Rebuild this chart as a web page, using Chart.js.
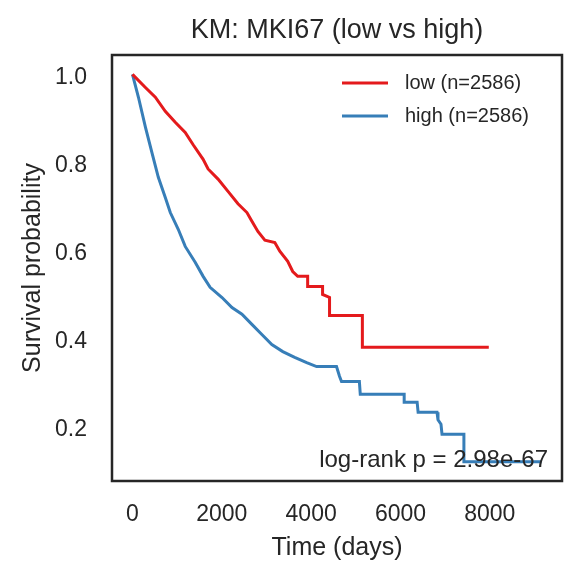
<!DOCTYPE html>
<html>
<head>
<meta charset="utf-8">
<script src="https://cdn.jsdelivr.net/npm/chart.js@4/dist/chart.umd.min.js"></script>
<style>
  html, body { margin: 0; padding: 0; background: #fff; }
  #wrap { width: 582px; height: 582px; }
</style>
</head>
<body>
<div id="wrap"><canvas id="km" width="582" height="582"></canvas></div>
<script>
const chartTitle = "KM: MKI67 (low vs high)";
const pValueText = "log-rank p = 2.98e-67";
const seriesLabels = ["low (n=2586)", "high (n=2586)"];
const xTicks = [0, 2000, 4000, 6000, 8000];
const yTicks = [0.2, 0.4, 0.6, 0.8, 1.0];

// low expression group (days, survival)
const lowTime = [0, 290, 512, 735, 958, 1181, 1359, 1582, 1693, 1916, 2139, 2362, 2563, 2674, 2808, 2964, 3187, 3298, 3476, 3588, 3699, 3922, 3922, 4256, 4256, 4412, 4412, 5147, 5147, 7977];
const lowSurv = [1.0, 0.970, 0.948, 0.916, 0.891, 0.868, 0.840, 0.807, 0.785, 0.762, 0.734, 0.706, 0.686, 0.666, 0.643, 0.623, 0.618, 0.598, 0.575, 0.552, 0.541, 0.541, 0.518, 0.518, 0.500, 0.493, 0.452, 0.452, 0.380, 0.380];

// high expression group
const highTime = [0, 134, 290, 446, 579, 735, 847, 1025, 1181, 1404, 1582, 1738, 2005, 2228, 2451, 2674, 2897, 3120, 3365, 3632, 3900, 4122, 4568, 4635, 4680, 5080, 5100, 6083, 6083, 6373, 6395, 6818, 6840, 6907, 6930, 7420, 7420, 9158];
const highSurv = [1.0, 0.948, 0.880, 0.818, 0.766, 0.720, 0.686, 0.648, 0.609, 0.573, 0.541, 0.516, 0.493, 0.470, 0.455, 0.432, 0.409, 0.386, 0.370, 0.357, 0.345, 0.336, 0.336, 0.314, 0.302, 0.302, 0.273, 0.273, 0.255, 0.255, 0.232, 0.232, 0.215, 0.205, 0.182, 0.182, 0.120, 0.120];

const lineColors = ["#e41a1c", "#377eb8"];
const textColor = "#262626";
const fontFamily = "'Liberation Sans', Arial, sans-serif";

function toPoints(xs, ys) {
  return xs.map((x, i) => ({ x: x, y: ys[i] }));
}

// title, legend, p-value text and axes frame
const decorations = {
  id: "decorations",
  afterDatasetsDraw(chart) {
    const ctx = chart.ctx;
    const area = chart.chartArea;
    ctx.save();

    ctx.fillStyle = textColor;
    ctx.font = "27px " + fontFamily;
    ctx.textAlign = "center";
    ctx.textBaseline = "middle";
    ctx.fillText(chartTitle, (area.left + area.right) / 2, 31);

    ctx.font = "20px " + fontFamily;
    ctx.textAlign = "left";
    chart.data.datasets.forEach((ds, i) => {
      const y = 83 + i * 33;
      ctx.strokeStyle = ds.borderColor;
      ctx.lineWidth = 3;
      ctx.beginPath();
      ctx.moveTo(342, y);
      ctx.lineTo(388, y);
      ctx.stroke();
      ctx.fillText(ds.label, 405, y);
    });

    ctx.font = "24px " + fontFamily;
    ctx.textAlign = "right";
    ctx.textBaseline = "alphabetic";
    ctx.fillText(pValueText, area.right - 14, 467);

    ctx.strokeStyle = textColor;
    ctx.lineWidth = 2.5;
    ctx.strokeRect(area.left, area.top, area.right - area.left, area.bottom - area.top);
    ctx.restore();
  }
};

new Chart(document.getElementById("km"), {
  type: "line",
  data: {
    datasets: [
      {
        label: seriesLabels[0],
        data: toPoints(lowTime, lowSurv),
        borderColor: lineColors[0],
        borderWidth: 3,
        pointRadius: 0,
        tension: 0,
        fill: false,
      },
      {
        label: seriesLabels[1],
        data: toPoints(highTime, highSurv),
        borderColor: lineColors[1],
        borderWidth: 3,
        pointRadius: 0,
        tension: 0,
        fill: false,
      },
    ],
  },
  options: {
    responsive: false,
    animation: false,
    devicePixelRatio: 1,
    layout: { padding: { top: 55, right: 20, left: 0, bottom: 0 } },
    plugins: {
      legend: { display: false },
      tooltip: { enabled: false },
    },
    scales: {
      x: {
        type: "linear",
        min: -458,
        max: 9616,
        grid: { display: false, drawTicks: false },
        border: { display: false },
        afterBuildTicks: (scale) => {
          scale.ticks = xTicks.map((v) => ({ value: v }));
        },
        afterFit: (scale) => {
          scale.height = 101;
        },
        ticks: {
          color: textColor,
          padding: 20,
          font: { family: fontFamily, size: 23 },
          callback: (v) => String(v),
        },
        title: {
          display: true,
          text: "Time (days)",
          color: textColor,
          font: { family: fontFamily, size: 25 },
          padding: { top: 0, bottom: 19 },
        },
      },
      y: {
        type: "linear",
        min: 0.076,
        max: 1.044,
        grid: { display: false, drawTicks: false },
        border: { display: false },
        afterBuildTicks: (scale) => {
          scale.ticks = yTicks.map((v) => ({ value: v }));
        },
        afterFit: (scale) => {
          scale.width = 112;
        },
        ticks: {
          color: textColor,
          padding: 25,
          labelOffset: 3,
          font: { family: fontFamily, size: 23 },
          callback: (v) => v.toFixed(1),
        },
        title: {
          display: true,
          text: "Survival probability",
          color: textColor,
          font: { family: fontFamily, size: 25 },
          padding: { top: 18, bottom: 0 },
        },
      },
    },
  },
  plugins: [decorations],
});
</script>
</body>
</html>
